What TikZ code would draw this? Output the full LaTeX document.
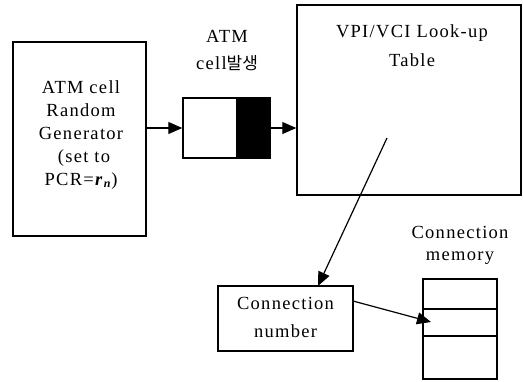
\documentclass[tikz,border=0pt]{standalone}
\usepackage{fontspec}
\setmainfont{Liberation Serif}[LetterSpace=7]
\newfontfamily\krfont{Noto Sans CJK KR}
\usetikzlibrary{arrows.meta,calc}
\begin{document}
\begin{tikzpicture}[x=1pt,y=-1pt,
  box/.style={draw,line width=1.5pt,rectangle,inner sep=0pt},
  lbl/.style={font=\fontsize{18.5}{23}\selectfont,align=center,inner sep=0pt},
  arr/.style={line width=1.2pt,-{Triangle[length=14pt,width=12pt]}}]
\useasboundingbox (0,0) rectangle (524,381);
% boxes
\node[box,minimum width=133pt,minimum height=194pt] (gen) at (79.5,139) {};
\node[box,minimum width=87pt,minimum height=60pt] (buf) at (226.5,128) {};
\fill (236,98) rectangle (270,158);
\node[box,minimum width=224pt,minimum height=190pt] (tab) at (409,100) {};
\node[box,minimum width=135pt,minimum height=65pt] (conn) at (285.5,318.5) {};
\node[box,minimum width=74pt,minimum height=100pt] (mem) at (460,329) {};
\draw[line width=1.2pt] (mem.west |- 0,309) -- (mem.east |- 0,309);
\draw[line width=1.2pt] (mem.west |- 0,336) -- (mem.east |- 0,336);
% labels
\node[lbl] (t1) at (81,135) {ATM cell\\ Random\\ Generator\\ \hphantom{(}(set to\\ PCR=\textbf{\textit{r}}\raisebox{-2.5pt}{\fontsize{12}{12}\selectfont\textbf{\textit{n}}})};
\node[lbl] (t2) at (227,36) {ATM};
\node[lbl] (t3) at (227,63) {cell{\krfont\fontsize{17}{17}\selectfont 발생}};
\node[lbl] (t4) at (412,33) {VPI/VCI Look-up};
\node[lbl] (t5) at (412,60) {Table};
\node[lbl] (t6) at (285.5,317) {Connection\\[5pt] number};
\node[lbl] (t7) at (460,232) {Connection};
\node[lbl] (t8) at (460,258) {memory};
% connectors
\coordinate (s1) at (387,138);
\coordinate (e1) at (318,286);
\coordinate (s2) at (353,301);
\coordinate (e2) at (431,322);
\draw[arr] (gen.east |- buf.west) -- (buf.west);
\draw[arr] (buf.east) -- (tab.west |- buf.east);
\draw[arr] (s1) -- (e1);
\draw[arr] (s2) -- (e2);
\end{tikzpicture}
\end{document}
